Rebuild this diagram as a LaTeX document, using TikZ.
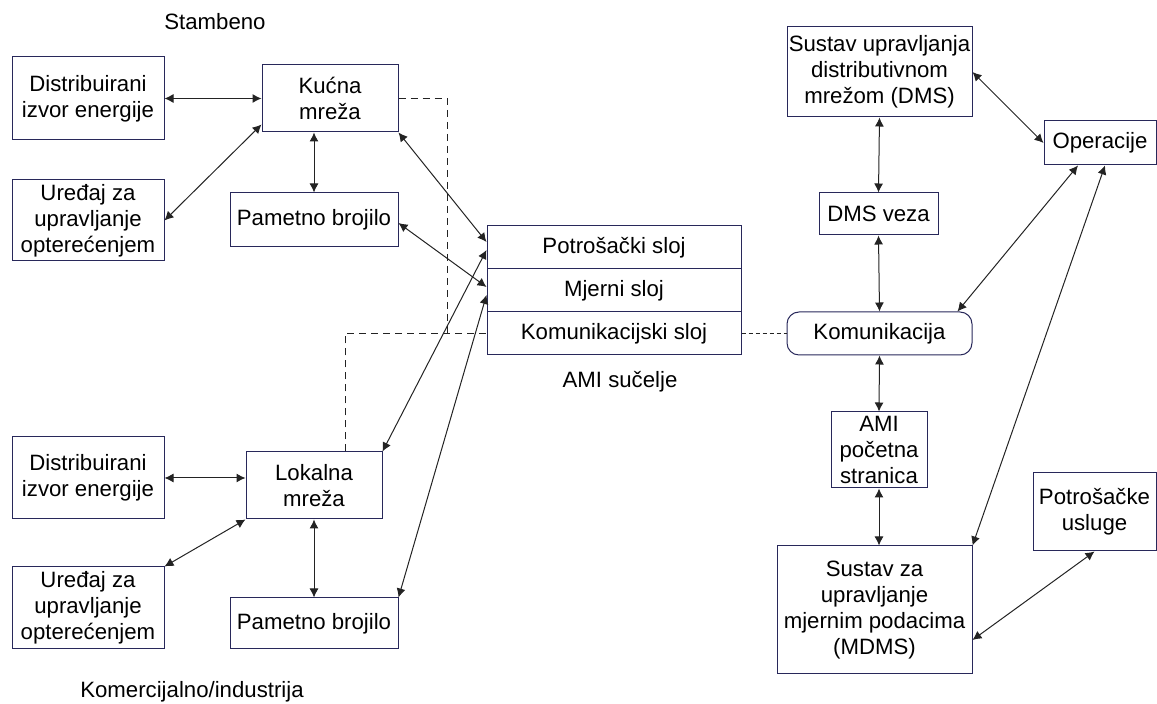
\documentclass[tikz,border=0pt]{standalone}
\usepackage{fontspec}
\setmainfont{Liberation Sans}
\usetikzlibrary{arrows.meta}
\definecolor{rub}{RGB}{40,40,90}
\definecolor{crta}{RGB}{35,35,35}

\begin{document}
\begin{tikzpicture}[x=0.5pt,y=-0.5pt,
		font=\fontsize{11.1}{13}\selectfont,
		okvir/.style={draw=rub,line width=0.5pt,inner sep=0pt,align=center},
		veza/.style={draw=crta,line width=0.5pt,{Latex[length=4.5pt,width=4.5pt]}-{Latex[length=4.5pt,width=4.5pt]}},
		isprek/.style={draw=crta,line width=0.5pt,dash pattern=on 3.5pt off 2.5pt},
		tocke/.style={draw=crta,line width=0.5pt,dash pattern=on 2pt off 1.5pt}]
				\useasboundingbox (0,0) rectangle (1157,704);
				% stambeno
				\node[okvir,minimum width=76pt,minimum height=41.5pt] (izvor1) at (88,98.5) {Distribuirani\\izvor energije};
				\node[okvir,minimum width=68pt,minimum height=33.5pt] (kucna) at (330,98.5) {Kućna\\mreža};
				\node[okvir,minimum width=76pt,minimum height=40.5pt] (uredaj1) at (88,220.5) {Uređaj za\\upravljanje\\opterećenjem};
				\node[okvir,minimum width=84pt,minimum height=27pt] (brojilo1) at (314,220) {Pametno brojilo};
				% komercijalno
				\node[okvir,minimum width=76pt,minimum height=41pt] (izvor2) at (88,478) {Distribuirani\\izvor energije};
				\node[okvir,minimum width=68pt,minimum height=33.5pt] (lokalna) at (314,485.5) {Lokalna\\mreža};
				\node[okvir,minimum width=76pt,minimum height=41pt] (uredaj2) at (88,608) {Uređaj za\\upravljanje\\opterećenjem};
				\node[okvir,minimum width=84pt,minimum height=25.5pt] (brojilo2) at (314,623.5) {Pametno brojilo};
				% AMI sucelje
				\node[okvir,minimum width=127pt,minimum height=21.5pt] (potrsloj) at (614,247.5) {Potrošački sloj};
				\node[okvir,minimum width=127pt,minimum height=21.5pt] (mjersloj) at (614,290.5) {Mjerni sloj};
				\node[okvir,minimum width=127pt,minimum height=21.5pt] (komsloj) at (614,333.5) {Komunikacijski sloj};
				% desno
				\node[okvir,minimum width=92.5pt,minimum height=45pt] (dms) at (879.5,72) {Sustav upravljanja\\distributivnom\\mrežom (DMS)};
				\node[okvir,minimum width=59.5pt,minimum height=21pt] (dmsveza) at (878.5,214) {DMS veza};
				\node[okvir,minimum width=56pt,minimum height=22pt] (operacije) at (1100,143) {Operacije};
				\node[okvir,rounded corners=6pt,minimum width=92.5pt,minimum height=21.5pt] (komunik) at (879.5,333.5) {Komunikacija};
				\node[okvir,minimum width=48pt,minimum height=38pt] (amipoc) at (879,450) {AMI\\početna\\stranica};
				\node[okvir,minimum width=61.5pt,minimum height=39pt] (usluge) at (1094.5,512) {Potrošačke\\usluge};
				\node[okvir,minimum width=97.5pt,minimum height=64pt] (mdms) at (874.5,610) {Sustav za\\upravljanje\\mjernim podacima\\(MDMS)};
				% natpisi
				\node (stambeno) at (215,22) {Stambeno};
				\node (amisucelje) at (620,382) {AMI sučelje};
				\node (komind) at (192,692) {Komercijalno/industrija};
				\coordinate (spoj) at (447,333.5);
				% veze lijevo
				\draw[veza] (izvor1.east) to (kucna.west);
				\draw[veza] (uredaj1.east) to ([yshift=4pt]kucna.south west);
				\draw[veza] (brojilo1.north |- kucna.south) to (brojilo1.north);
				\draw[veza] (kucna.south east) to ([yshift=2.75pt]potrsloj.west);
				\draw[veza] ([yshift=-1.5pt]brojilo1.east) to ([yshift=1.75pt]mjersloj.west);
				\draw[veza] (izvor2.east) to (izvor2.east -| lokalna.west);
				\draw[veza] (uredaj2.north east) to (lokalna.south west);
				\draw[veza] (lokalna.south) to (brojilo2.north);
				\draw[veza] (lokalna.north east) to ([yshift=-1.25pt]potrsloj.west);
				\draw[veza] (brojilo2.north east) to ([yshift=-2.25pt]mjersloj.west);
				\draw[isprek] (kucna.east) -| (spoj);
				\draw[isprek] ([xshift=15.5pt]lokalna.north) |- (komsloj.west);
				\draw[tocke] (komsloj.east) to (komunik.west);
				% veze desno
				\draw[veza] (dms.south) to (dmsveza.north);
				\draw[veza] (dmsveza.south) to (komunik.north);
				\draw[veza] (dms.east) to (operacije.west);
				\draw[veza] ([xshift=-11pt]operacije.south) to ([xshift=-7.5pt]komunik.north east);
				\draw[veza] ([xshift=2.5pt]operacije.south) to (mdms.north east);
				\draw[veza] (komunik.south) to (amipoc.north);
				\draw[veza] (amipoc.south) to (amipoc.south |- mdms.north);
				\draw[veza] (usluge.south) to ([yshift=-15pt]mdms.east);
\end{tikzpicture}
\end{document}
